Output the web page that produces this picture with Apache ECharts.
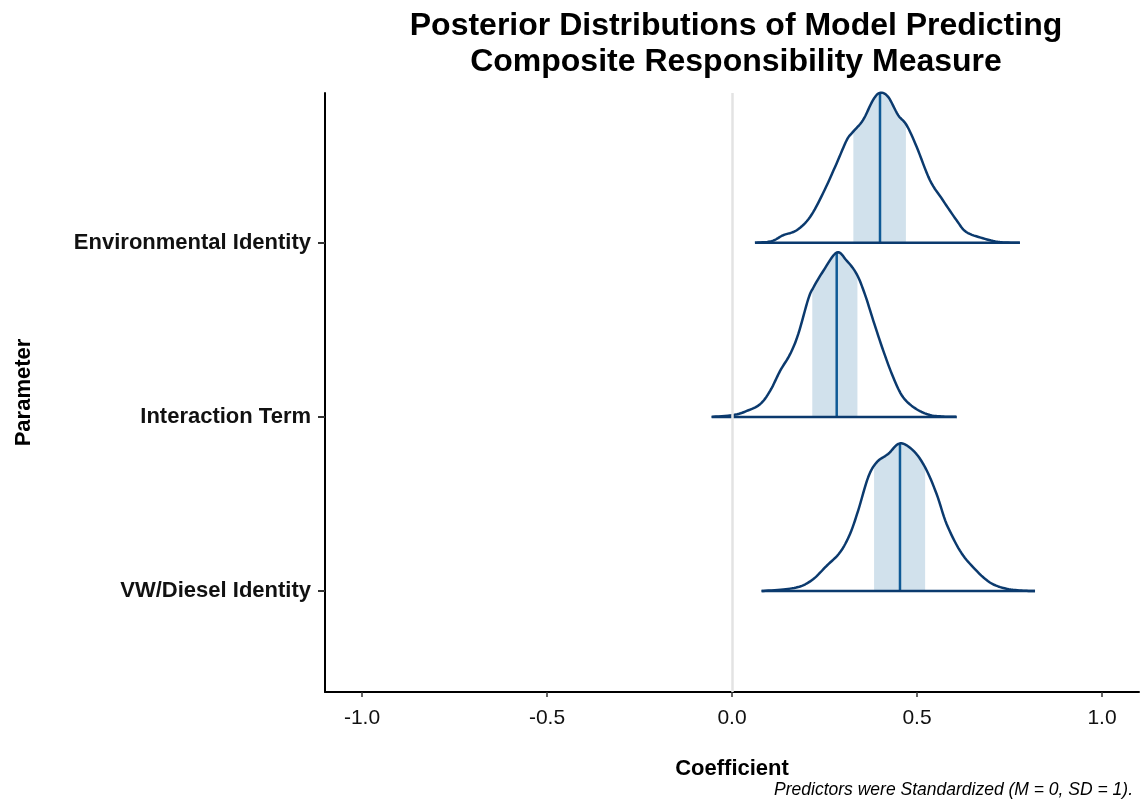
<!DOCTYPE html>
<html>
<head>
<meta charset="utf-8">
<script src="https://cdn.jsdelivr.net/npm/echarts@6/dist/echarts.min.js"></script>
<style>
  html, body { margin: 0; padding: 0; background: #fff; }
  #chart { width: 1142px; height: 807px; }
</style>
</head>
<body>
<div id="chart"></div>
<script>
// Parameters, bottom row first (row positions 1, 2, 3)
const categories = ['VW/Diesel Identity', 'Interaction Term', 'Environmental Identity'];
const rowPositions = [1, 2, 3];

// Posterior density curves: [coefficient, scaled density height]
const vwCurve = [[0.080,0],[0.139,0.009],[0.184,0.026],[0.220,0.069],[0.256,0.145],[0.292,0.222],[0.319,0.328],[0.341,0.462],[0.368,0.653],[0.391,0.739],[0.422,0.787],[0.454,0.848],[0.490,0.806],[0.522,0.710],[0.553,0.557],[0.580,0.385],[0.616,0.232],[0.652,0.136],[0.697,0.049],[0.742,0.013],[0.787,0.002],[0.819,0]];
const interactionCurve = [[-0.055,0],[0.004,0.011],[0.040,0.034],[0.076,0.073],[0.103,0.149],[0.130,0.264],[0.157,0.360],[0.179,0.475],[0.206,0.676],[0.220,0.743],[0.247,0.839],[0.283,0.944],[0.310,0.897],[0.337,0.820],[0.359,0.705],[0.382,0.552],[0.409,0.379],[0.436,0.226],[0.463,0.111],[0.499,0.044],[0.535,0.011],[0.571,0.002],[0.607,0]];
const envCurve = [[0.062,0],[0.107,0.009],[0.138,0.043],[0.175,0.072],[0.211,0.148],[0.246,0.284],[0.283,0.457],[0.310,0.589],[0.327,0.637],[0.354,0.704],[0.381,0.819],[0.400,0.861],[0.422,0.838],[0.449,0.733],[0.472,0.675],[0.499,0.551],[0.535,0.359],[0.570,0.244],[0.607,0.129],[0.633,0.062],[0.678,0.026],[0.724,0.004],[0.778,0]];

// Posterior medians and inner (50%) interval bounds, same row order
const medians = [0.454, 0.283, 0.400];
const intervalLow = [0.384, 0.217, 0.328];
const intervalHigh = [0.522, 0.339, 0.470];

// Axis tick values
const xTicks = [-1.0, -0.5, 0.0, 0.5, 1.0];

const curves = [vwCurve, interactionCurve, envCurve];

const COLOR_LINE = '#0b3a6e';
const COLOR_MEDIAN = '#0f5a96';
const COLOR_BAND = '#d1e1ec';

// Catmull-Rom resampling of pixel points for a smooth outline
function smoothPath(pts, steps) {
  const out = [];
  for (let i = 0; i < pts.length - 1; i++) {
    const p0 = pts[Math.max(i - 1, 0)], p1 = pts[i], p2 = pts[i + 1], p3 = pts[Math.min(i + 2, pts.length - 1)];
    for (let s = 0; s < steps; s++) {
      const t = s / steps, t2 = t * t, t3 = t2 * t;
      const f = (a, b, c, d) => 0.5 * ((2 * b) + (-a + c) * t + (2 * a - 5 * b + 4 * c - d) * t2 + (-a + 3 * b - 3 * c + d) * t3);
      out.push([f(p0[0], p1[0], p2[0], p3[0]), f(p0[1], p1[1], p2[1], p3[1])]);
    }
  }
  out.push(pts[pts.length - 1]);
  return out;
}

function yAtX(path, x) {
  for (let i = 0; i < path.length - 1; i++) {
    const a = path[i], b = path[i + 1];
    if ((a[0] <= x && b[0] >= x) || (a[0] >= x && b[0] <= x)) {
      const t = b[0] === a[0] ? 0 : (x - a[0]) / (b[0] - a[0]);
      return a[1] + t * (b[1] - a[1]);
    }
  }
  return path[path.length - 1][1];
}

function renderRidge(params, api) {
  const i = params.dataIndex;
  const base = rowPositions[i];
  const curve = curves[i];
  const pix = curve.map(p => api.coord([p[0], base + p[1]]));
  const path = smoothPath(pix, 8);
  const basePx = api.coord([0, base])[1];
  const loX = api.coord([intervalLow[i], base])[0];
  const hiX = api.coord([intervalHigh[i], base])[0];
  const medX = api.coord([medians[i], base])[0];

  const band = [[loX, basePx], [loX, yAtX(path, loX)]];
  path.forEach(p => { if (p[0] > loX && p[0] < hiX) band.push(p); });
  band.push([hiX, yAtX(path, hiX)], [hiX, basePx]);

  const x0 = pix[0][0], x1 = pix[pix.length - 1][0];
  return {
    type: 'group',
    children: [
      { type: 'polygon', shape: { points: band }, style: { fill: COLOR_BAND }, silent: true },
      { type: 'line', shape: { x1: medX, y1: basePx, x2: medX, y2: yAtX(path, medX) },
        style: { stroke: COLOR_MEDIAN, lineWidth: 2.5 } },
      { type: 'polyline', shape: { points: path }, style: { stroke: COLOR_LINE, lineWidth: 2.5, fill: null, lineJoin: 'round' } },
      { type: 'line', shape: { x1: x0, y1: basePx, x2: x1, y2: basePx },
        style: { stroke: COLOR_LINE, lineWidth: 2.5 } }
    ]
  };
}

const chart = echarts.init(document.getElementById('chart'), null, { renderer: 'canvas' });

const FONT = '"Liberation Sans", Arial, sans-serif';

chart.setOption({
  backgroundColor: '#ffffff',
  animation: false,
  title: {
    text: 'Posterior Distributions of Model Predicting\nComposite Responsibility Measure',
    left: 731,
    top: 3,
    textAlign: 'center',
    textStyle: { fontFamily: FONT, fontSize: 32, fontWeight: 'bold', color: '#000', lineHeight: 36 }
  },
  grid: { left: 325, right: 3, top: 93, bottom: 115, containLabel: false },
  xAxis: {
    type: 'value',
    min: -1.1,
    max: 1.1,
    name: 'Coefficient',
    nameLocation: 'middle',
    nameGap: 66,
    nameTextStyle: { fontFamily: FONT, fontSize: 22, fontWeight: 'bold', color: '#000' },
    axisLine: { show: true, onZero: false, lineStyle: { color: '#000', width: 2 } },
    axisTick: { show: true, length: 5, customValues: xTicks, lineStyle: { color: '#333', width: 1.5 } },
    axisLabel: { customValues: xTicks, margin: 16, fontFamily: FONT, fontSize: 21, color: '#111',
      formatter: v => v.toFixed(1) },
    splitLine: { show: false }
  },
  yAxis: {
    type: 'value',
    min: 0.42,
    max: 3.86,
    name: 'Parameter',
    nameLocation: 'middle',
    nameGap: 290,
    nameRotate: 90,
    nameTextStyle: { fontFamily: FONT, fontSize: 22, fontWeight: 'bold', color: '#000' },
    axisLine: { show: true, onZero: false, lineStyle: { color: '#000', width: 2 } },
    axisTick: { show: true, length: 7, customValues: rowPositions, lineStyle: { color: '#333', width: 2 } },
    axisLabel: { customValues: rowPositions, margin: 14, fontFamily: FONT, fontSize: 22, fontWeight: 'bold', color: '#111',
      formatter: v => categories[Math.round(v) - 1] || '' },
    splitLine: { show: false }
  },
  graphic: [{
    type: 'text',
    right: 9,
    top: 781,
    style: { text: 'Predictors were Standardized (M = 0, SD = 1).', fontFamily: FONT, fontSize: 17.5,
      fontStyle: 'italic', fill: '#000' }
  }],
  series: [
    {
      // reference line at zero
      type: 'line',
      data: [],
      silent: true,
      z: 1,
      markLine: {
        silent: true,
        symbol: 'none',
        label: { show: false },
        lineStyle: { color: '#e3e3e3', width: 2.5, type: 'solid' },
        data: [{ xAxis: 0 }]
      }
    },
    {
      type: 'custom',
      z: 3,
      renderItem: renderRidge,
      data: rowPositions.map((p, i) => [medians[i], p]),
      encode: { x: 0, y: 1 },
      clip: false
    }
  ]
});
</script>
</body>
</html>
